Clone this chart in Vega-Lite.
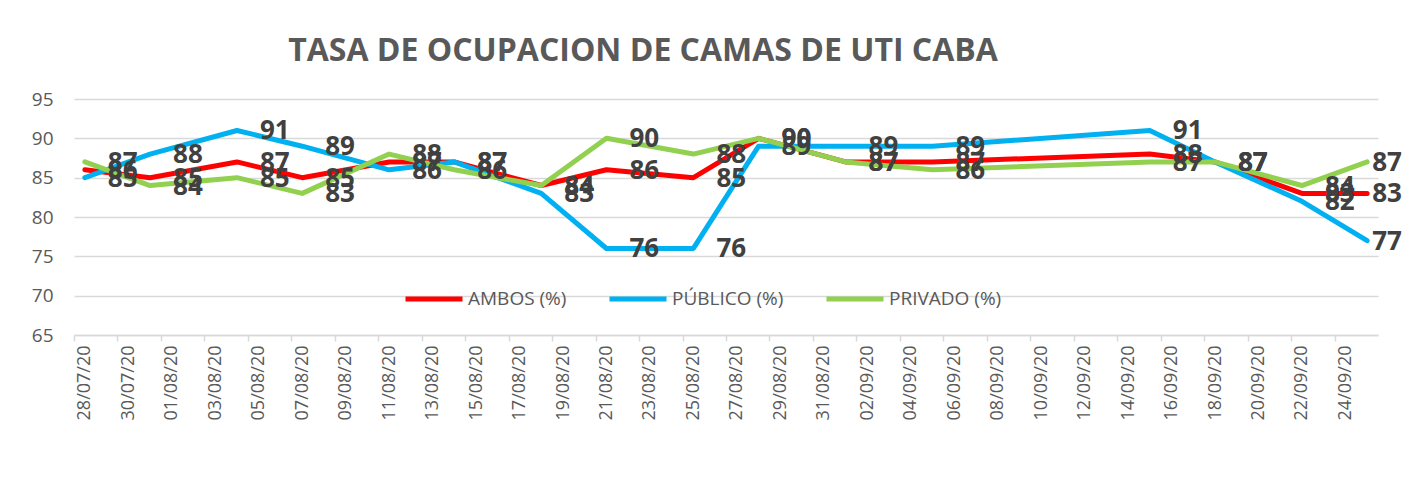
{
  "$schema": "https://vega.github.io/schema/vega-lite/v6.json",
  "width": 1304,
  "height": 236,
  "autosize": {"type": "none"},
  "padding": {"left": 74, "top": 99, "right": 24, "bottom": 168},
  "background": "white",
  "config": {"view": {"stroke": null}},
  "title": {
    "text": "TASA DE OCUPACION DE CAMAS DE UTI CABA",
    "font": "Open Sans",
    "fontSize": 32,
    "fontWeight": "bold",
    "color": "#595959",
    "anchor": "middle",
    "frame": "group",
    "dx": -83,
    "offset": 22
  },
  "data": {
    "values": [
      {"fecha": "2020-07-28", "serie": "AMBOS (%)", "valor": 86},
      {"fecha": "2020-07-31", "serie": "AMBOS (%)", "valor": 85},
      {"fecha": "2020-08-04", "serie": "AMBOS (%)", "valor": 87},
      {"fecha": "2020-08-07", "serie": "AMBOS (%)", "valor": 85},
      {"fecha": "2020-08-11", "serie": "AMBOS (%)", "valor": 87},
      {"fecha": "2020-08-14", "serie": "AMBOS (%)", "valor": 87},
      {"fecha": "2020-08-18", "serie": "AMBOS (%)", "valor": 84},
      {"fecha": "2020-08-21", "serie": "AMBOS (%)", "valor": 86},
      {"fecha": "2020-08-25", "serie": "AMBOS (%)", "valor": 85},
      {"fecha": "2020-08-28", "serie": "AMBOS (%)", "valor": 90},
      {"fecha": "2020-09-01", "serie": "AMBOS (%)", "valor": 87},
      {"fecha": "2020-09-05", "serie": "AMBOS (%)", "valor": 87},
      {"fecha": "2020-09-15", "serie": "AMBOS (%)", "valor": 88},
      {"fecha": "2020-09-18", "serie": "AMBOS (%)", "valor": 87},
      {"fecha": "2020-09-22", "serie": "AMBOS (%)", "valor": 83},
      {"fecha": "2020-09-25", "serie": "AMBOS (%)", "valor": 83},
      {"fecha": "2020-07-28", "serie": "PÚBLICO (%)", "valor": 85},
      {"fecha": "2020-07-31", "serie": "PÚBLICO (%)", "valor": 88},
      {"fecha": "2020-08-04", "serie": "PÚBLICO (%)", "valor": 91},
      {"fecha": "2020-08-07", "serie": "PÚBLICO (%)", "valor": 89},
      {"fecha": "2020-08-11", "serie": "PÚBLICO (%)", "valor": 86},
      {"fecha": "2020-08-14", "serie": "PÚBLICO (%)", "valor": 87},
      {"fecha": "2020-08-18", "serie": "PÚBLICO (%)", "valor": 83},
      {"fecha": "2020-08-21", "serie": "PÚBLICO (%)", "valor": 76},
      {"fecha": "2020-08-25", "serie": "PÚBLICO (%)", "valor": 76},
      {"fecha": "2020-08-28", "serie": "PÚBLICO (%)", "valor": 89},
      {"fecha": "2020-09-01", "serie": "PÚBLICO (%)", "valor": 89},
      {"fecha": "2020-09-05", "serie": "PÚBLICO (%)", "valor": 89},
      {"fecha": "2020-09-15", "serie": "PÚBLICO (%)", "valor": 91},
      {"fecha": "2020-09-18", "serie": "PÚBLICO (%)", "valor": 87},
      {"fecha": "2020-09-22", "serie": "PÚBLICO (%)", "valor": 82},
      {"fecha": "2020-09-25", "serie": "PÚBLICO (%)", "valor": 77},
      {"fecha": "2020-07-28", "serie": "PRIVADO (%)", "valor": 87},
      {"fecha": "2020-07-31", "serie": "PRIVADO (%)", "valor": 84},
      {"fecha": "2020-08-04", "serie": "PRIVADO (%)", "valor": 85},
      {"fecha": "2020-08-07", "serie": "PRIVADO (%)", "valor": 83},
      {"fecha": "2020-08-11", "serie": "PRIVADO (%)", "valor": 88},
      {"fecha": "2020-08-14", "serie": "PRIVADO (%)", "valor": 86},
      {"fecha": "2020-08-18", "serie": "PRIVADO (%)", "valor": 84},
      {"fecha": "2020-08-21", "serie": "PRIVADO (%)", "valor": 90},
      {"fecha": "2020-08-25", "serie": "PRIVADO (%)", "valor": 88},
      {"fecha": "2020-08-28", "serie": "PRIVADO (%)", "valor": 90},
      {"fecha": "2020-09-01", "serie": "PRIVADO (%)", "valor": 87},
      {"fecha": "2020-09-05", "serie": "PRIVADO (%)", "valor": 86},
      {"fecha": "2020-09-15", "serie": "PRIVADO (%)", "valor": 87},
      {"fecha": "2020-09-18", "serie": "PRIVADO (%)", "valor": 87},
      {"fecha": "2020-09-22", "serie": "PRIVADO (%)", "valor": 84},
      {"fecha": "2020-09-25", "serie": "PRIVADO (%)", "valor": 87}
    ]
  },
  "encoding": {
    "x": {
      "field": "fecha",
      "type": "ordinal",
      "scale": {
        "type": "point",
        "padding": 0.5,
        "domain": ["2020-07-28","2020-07-29","2020-07-30","2020-07-31",
          "2020-08-01","2020-08-02","2020-08-03","2020-08-04","2020-08-05","2020-08-06","2020-08-07","2020-08-08","2020-08-09","2020-08-10",
          "2020-08-11","2020-08-12","2020-08-13","2020-08-14","2020-08-15","2020-08-16","2020-08-17","2020-08-18","2020-08-19","2020-08-20",
          "2020-08-21","2020-08-22","2020-08-23","2020-08-24","2020-08-25","2020-08-26","2020-08-27","2020-08-28","2020-08-29","2020-08-30","2020-08-31",
          "2020-09-01","2020-09-02","2020-09-03","2020-09-04","2020-09-05","2020-09-06","2020-09-07","2020-09-08","2020-09-09","2020-09-10",
          "2020-09-11","2020-09-12","2020-09-13","2020-09-14","2020-09-15","2020-09-16","2020-09-17","2020-09-18","2020-09-19","2020-09-20",
          "2020-09-21","2020-09-22","2020-09-23","2020-09-24","2020-09-25"]
      },
      "axis": {
        "title": null,
        "values": ["2020-07-28","2020-07-30","2020-08-01","2020-08-03","2020-08-05","2020-08-07","2020-08-09","2020-08-11","2020-08-13","2020-08-15",
          "2020-08-17","2020-08-19","2020-08-21","2020-08-23","2020-08-25","2020-08-27","2020-08-29","2020-08-31","2020-09-02","2020-09-04",
          "2020-09-06","2020-09-08","2020-09-10","2020-09-12","2020-09-14","2020-09-16","2020-09-18","2020-09-20","2020-09-22","2020-09-24"],
        "tickOffset": -10.87,
        "labelOffset": 10.87,
        "labelExpr": "slice(datum.value, 8, 10) + '/' + slice(datum.value, 5, 7) + '/20'",
        "labelAngle": 270,
        "labelAlign": "right",
        "labelBaseline": "middle",
        "labelFont": "Open Sans",
        "labelFontSize": 18,
        "labelColor": "#595959",
        "labelPadding": 4,
        "labelOverlap": false,
        "domainColor": "#d9d9d9",
        "domainWidth": 1.5,
        "tickColor": "#d9d9d9",
        "tickWidth": 1.5,
        "tickSize": 6,
        "grid": false
      }
    },
    "y": {
      "field": "valor",
      "type": "quantitative",
      "scale": {"domain": [65, 95], "nice": false, "zero": false},
      "axis": {
        "title": null,
        "values": [65, 70, 75, 80, 85, 90, 95],
        "grid": true,
        "gridColor": "#d9d9d9",
        "gridWidth": 1.5,
        "domain": false,
        "ticks": false,
        "labelPadding": 21,
        "labelFont": "Open Sans",
        "labelFontSize": 19,
        "labelColor": "#595959"
      }
    }
  },
  "layer": [
    {
      "mark": {"type": "line", "strokeWidth": 5, "strokeCap": "round", "strokeJoin": "round"},
      "encoding": {
        "color": {
          "field": "serie",
          "type": "nominal",
          "scale": {"domain": ["AMBOS (%)", "PÚBLICO (%)", "PRIVADO (%)"], "range": ["#ff0000", "#00b0f0", "#92d050"]},
          "legend": {
            "orient": "none",
            "legendX": 329,
            "legendY": 169,
            "direction": "horizontal",
            "title": null,
            "symbolType": "stroke",
            "symbolSize": 3249,
            "symbolStrokeWidth": 5,
            "labelFont": "Open Sans",
            "labelFontSize": 19,
            "labelColor": "#595959",
            "labelOffset": 3,
            "columnPadding": 32
          }
        }
      }
    },
    {
      "transform": [{"filter": "datum.fecha != '2020-09-25'"}],
      "mark": {"type": "text", "align": "left", "baseline": "middle", "dx": 23, "dy": 1, "font": "Open Sans", "fontSize": 26, "fontWeight": "bold", "color": "#404040"},
      "encoding": {
        "text": {"field": "valor", "type": "quantitative"}
      }
    },
    {
      "transform": [{"filter": "datum.fecha == '2020-09-25'"}],
      "mark": {"type": "text", "align": "left", "baseline": "middle", "dx": 5, "dy": 1, "font": "Open Sans", "fontSize": 26, "fontWeight": "bold", "color": "#404040"},
      "encoding": {
        "text": {"field": "valor", "type": "quantitative"}
      }
    }
  ]
}
